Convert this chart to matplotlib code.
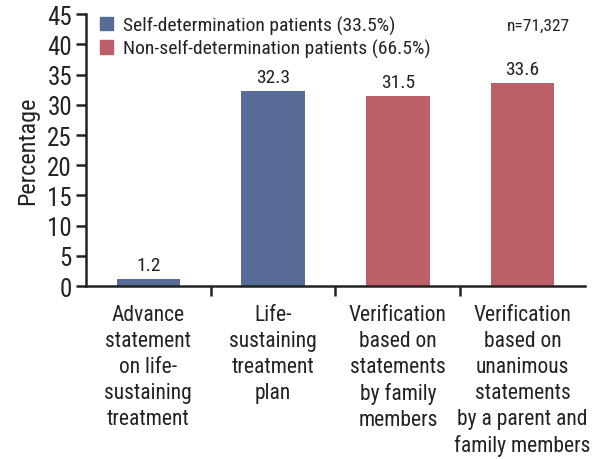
import matplotlib
matplotlib.use("Agg")
import matplotlib.pyplot as plt
from matplotlib import font_manager
from matplotlib.patches import Patch

names = {f.name for f in font_manager.fontManager.ttflist}
fam = [f for f in ["Liberation Sans Narrow", "Roboto Condensed", "Open Sans Condensed"] if f in names] + ["Roboto", "DejaVu Sans"]
plt.rcParams['font.family'] = fam

categories = ["Advance\nstatement\non life-\nsustaining\ntreatment",
              "Life-\nsustaining\ntreatment\nplan",
              "Verification\nbased on\nstatements\nby family\nmembers",
              "Verification\nbased on\nunanimous\nstatements\nby a parent and\nfamily members"]
values = [1.2, 32.3, 31.5, 33.6]
groups = ["self", "self", "non", "non"]
legend_labels = ["Self-determination patients (33.5%)", "Non-self-determination patients (66.5%)"]
yticks = list(range(0, 50, 5))

blue = "#566B96"
red = "#BC5F68"
colors = [blue if g == "self" else red for g in groups]

fig = plt.figure(figsize=(5.93, 4.6), dpi=100)
ax = fig.add_axes([0.145, 0.376, 0.8415, 0.591])
x = list(range(len(values)))
ax.bar(x, values, width=0.51, color=colors)
for xi, v in zip(x, values):
    ax.text(xi, v + 0.8, f"{v}", ha="center", va="bottom", fontsize=14, color="#222222")

ax.set_xlim(-0.5, 3.5)
ax.set_ylim(0, 45)
ax.set_yticks(yticks)
ax.tick_params(axis="y", labelsize=18, length=7, width=1.8, direction="out", colors="#222222", pad=3)
ax.set_xticks([0.5, 1.5, 2.5])
ax.set_xticklabels([])
ax.tick_params(axis="x", length=7, width=1.8, direction="out", colors="#222222")
for xi, c in zip(x, categories):
    ax.text(xi, -3.0, c, ha="center", va="top", fontsize=15.5, color="#222222", linespacing=1.31)

for s in ["top", "right"]:
    ax.spines[s].set_visible(False)
for s in ["left", "bottom"]:
    ax.spines[s].set_linewidth(1.8)
    ax.spines[s].set_color("#222222")

ax.set_ylabel("Percentage", fontsize=17.5, color="#222222", labelpad=6)

handles = [Patch(color=blue), Patch(color=red)]
ax.legend(handles, legend_labels, loc="upper left", bbox_to_anchor=(0.0, 1.045), frameon=False,
          fontsize=14, handlelength=0.7, handleheight=0.7, handletextpad=0.5, labelspacing=0.2,
          borderaxespad=0.3, labelcolor="#222222")
ax.text(0.97, 0.985, "n=71,327", transform=ax.transAxes, ha="right", va="top", fontsize=12.5, color="#222222")

fig.savefig("out.png", dpi=100)
